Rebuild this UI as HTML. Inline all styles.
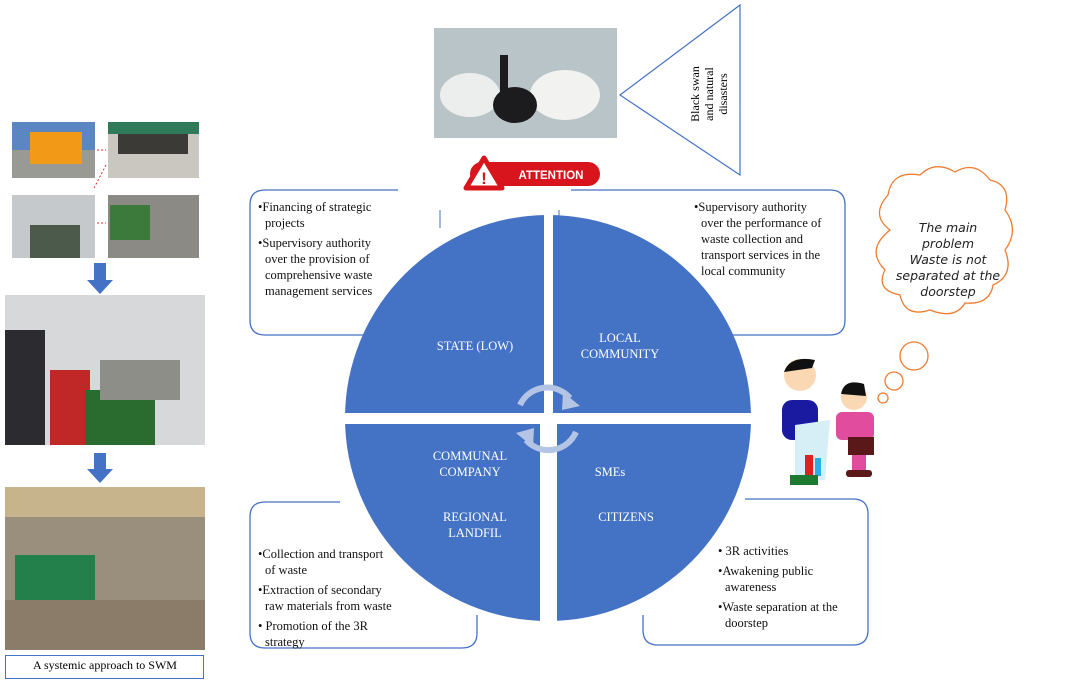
<!DOCTYPE html>
<html><head><meta charset="utf-8"><style>
body{margin:0;width:1085px;height:685px;background:#fff;overflow:hidden;position:relative;font-family:"Liberation Serif",serif;}
.a{position:absolute;}
.t{font-size:12.5px;line-height:16px;color:#111;}
.t p{margin:0 0 4px 0;padding-left:8px;text-indent:-7px;}
.n p{white-space:nowrap;}
.w{color:#fff;font-size:12.5px;text-align:center;line-height:16px;}
</style></head><body>
<svg class="a" style="left:0;top:0" width="1085" height="685">
<rect x="12" y="122" width="83" height="56" fill="#5a87c2"/>
<rect x="12" y="150" width="83" height="28" fill="#9a9a94"/>
<rect x="30" y="132" width="52" height="32" fill="#f29a18"/>
<rect x="108" y="122" width="91" height="56" fill="#c9c7c0"/>
<rect x="108" y="122" width="91" height="12" fill="#2f7a58"/>
<rect x="118" y="134" width="70" height="20" fill="#3b3a36"/>
<rect x="12" y="195" width="83" height="63" fill="#c6c9cc"/>
<rect x="30" y="225" width="50" height="33" fill="#4b5a4a"/>
<rect x="108" y="195" width="91" height="63" fill="#8b8a84"/>
<rect x="110" y="205" width="40" height="35" fill="#3b7a3a"/>
<line x1="97" y1="150" x2="106" y2="150" stroke="#d33" stroke-dasharray="2,2"/>
<line x1="97" y1="223" x2="106" y2="223" stroke="#d33" stroke-dasharray="2,2"/>
<line x1="106" y1="165" x2="93" y2="190" stroke="#d33" stroke-dasharray="2,2"/>
<polygon points="94,263 106,263 106,280 113,280 100,294 87,280 94,280" fill="#4472c4"/>
<rect x="5" y="295" width="200" height="150" fill="#d6d8da"/>
<rect x="5" y="330" width="40" height="115" fill="#2c2c30"/>
<rect x="50" y="370" width="40" height="75" fill="#c02828"/>
<rect x="85" y="390" width="70" height="55" fill="#2a6b30"/>
<rect x="100" y="360" width="80" height="40" fill="#8d8e88"/>
<polygon points="94,453 106,453 106,469 113,469 100,483 87,469 94,469" fill="#4472c4"/>
<rect x="5" y="487" width="200" height="163" fill="#9a8f7d"/>
<rect x="5" y="487" width="200" height="30" fill="#c7b48c"/>
<rect x="15" y="555" width="80" height="55" fill="#23804a"/>
<rect x="5" y="600" width="200" height="50" fill="#8a7c68"/>
<rect x="5.5" y="655.5" width="198" height="23" fill="#fff" stroke="#4472c4"/>
<rect x="434" y="28" width="183" height="110" fill="#b9c4c8"/>
<ellipse cx="470" cy="95" rx="30" ry="22" fill="#eceeed"/>
<ellipse cx="565" cy="95" rx="35" ry="25" fill="#f2f2f0"/>
<ellipse cx="515" cy="105" rx="22" ry="18" fill="#1c1c1e"/>
<rect x="500" y="55" width="8" height="40" fill="#1c1c1e"/>
<polygon points="740,5 620,95 740,175" fill="#fff" stroke="#4472c4" stroke-width="1.2"/>
<path d="M398 190 H265 Q250 190 250 205 V320 Q250 335 265 335 H400" fill="none" stroke="#4472c4" stroke-width="1.3"/>
<path d="M571 190 H830 Q845 190 845 205 V320 Q845 335 830 335 H700" fill="none" stroke="#4472c4" stroke-width="1.3"/>
<line x1="440" y1="210" x2="440" y2="228" stroke="#4472c4"/>
<line x1="559" y1="210" x2="559" y2="228" stroke="#4472c4"/>
<path d="M340 502 H265 Q250 502 250 517 V633 Q250 648 265 648 H462 Q477 648 477 633 V615" fill="none" stroke="#4472c4" stroke-width="1.3"/>
<path d="M643 615 V630 Q643 645 658 645 H853 Q868 645 868 630 V514 Q868 499 853 499 H745" fill="none" stroke="#4472c4" stroke-width="1.3"/>
<defs><clipPath id="c"><circle cx="548" cy="418" r="203"/></clipPath></defs>
<g clip-path="url(#c)" fill="#4472c4">
<rect x="340" y="210" width="204" height="203"/>
<rect x="553" y="210" width="200" height="203"/>
<rect x="340" y="424" width="200" height="200"/>
<rect x="557" y="424" width="200" height="200"/>
</g>
<path d="M520 405 A30 30 0 0 1 570 398" fill="none" stroke="#b4c4e4" stroke-width="6"/>
<polygon points="563,392 580,406 562,410" fill="#b4c4e4"/>
<path d="M576 432 A30 30 0 0 1 526 440" fill="none" stroke="#b4c4e4" stroke-width="6"/>
<polygon points="533,447 516,433 534,428" fill="#b4c4e4"/>
<rect x="470" y="162" width="130" height="24" rx="12" fill="#d8141c"/>
<polygon points="484,158 466,188 502,188" fill="#fff" stroke="#d8141c" stroke-width="5" stroke-linejoin="round"/>
<text x="484" y="184" font-family="Liberation Sans" font-weight="bold" font-size="17" fill="#d8141c" text-anchor="middle">!</text>
<text x="551" y="179" font-family="Liberation Sans" font-weight="bold" font-size="11.5" fill="#fff" text-anchor="middle">ATTENTION</text>
<path d="M890 230 Q870 215 888 195 Q892 170 920 175 Q935 160 955 172 Q975 160 990 180 Q1012 185 1005 210 Q1020 230 1005 250 Q1015 275 993 285 Q990 305 965 303 Q955 320 930 310 Q905 318 900 295 Q875 290 885 270 Q865 250 890 230 Z" fill="#fff" stroke="#ed7d31" stroke-width="1.3"/>
<circle cx="914" cy="356" r="14" fill="#fff" stroke="#ed7d31" stroke-width="1.3"/>
<circle cx="894" cy="381" r="9" fill="#fff" stroke="#ed7d31" stroke-width="1.3"/>
<circle cx="883" cy="398" r="5" fill="#fff" stroke="#ed7d31" stroke-width="1.3"/>
<circle cx="800" cy="375" r="16" fill="#fbd8b4"/>
<path d="M784 372 Q790 355 815 360 L812 368 Z" fill="#111"/>
<rect x="782" y="400" width="36" height="40" rx="10" fill="#1a1aa0"/>
<path d="M795 425 L830 420 L825 480 L795 480 Z" fill="#d6eef6"/>
<rect x="805" y="455" width="8" height="20" fill="#e02020"/>
<rect x="815" y="458" width="6" height="18" fill="#2ab0e0"/>
<rect x="790" y="475" width="28" height="10" fill="#1e7a30"/>
<circle cx="854" cy="397" r="13" fill="#fbd8b4"/>
<path d="M841 394 Q844 378 864 384 L866 396 Z" fill="#111"/>
<rect x="836" y="412" width="38" height="28" rx="6" fill="#e24c9e"/>
<rect x="848" y="437" width="26" height="18" fill="#5a1818"/>
<rect x="852" y="455" width="14" height="16" fill="#e24c9e"/>
<rect x="846" y="470" width="26" height="7" rx="3" fill="#5a1818"/>
</svg>

<div class="a" style="left:5px;top:658px;width:200px;text-align:center;font-size:12px;">A systemic approach to SWM</div>
<div class="a" style="left:677px;top:70px;width:70px;height:48px;transform:rotate(-90deg);transform-origin:center;font-size:12px;line-height:14px;text-align:center;">Black swan and natural disasters</div>

<div class="a t" style="left:257px;top:199px;width:125px;"><p>•Financing of strategic projects</p><p>•Supervisory authority over the provision of comprehensive waste management services</p></div>
<div class="a t" style="left:693px;top:199px;width:132px;"><p>•Supervisory authority over the performance of waste collection and transport services in the local community</p></div>
<div class="a t n" style="left:257px;top:546px;width:140px;"><p>•Collection and transport<br>of waste</p><p>•Extraction of secondary<br>raw materials from waste</p><p>• Promotion of the 3R<br>strategy</p></div>
<div class="a t" style="left:717px;top:543px;width:136px;"><p>• 3R activities</p><p>•Awakening public awareness</p><p>•Waste separation at the doorstep</p></div>

<div class="a w" style="left:415px;top:338px;width:120px;">STATE (LOW)</div>
<div class="a w" style="left:570px;top:330px;width:100px;">LOCAL<br>COMMUNITY</div>
<div class="a w" style="left:415px;top:448px;width:110px;">COMMUNAL<br>COMPANY</div>
<div class="a w" style="left:580px;top:464px;width:60px;">SMEs</div>
<div class="a w" style="left:415px;top:509px;width:120px;">REGIONAL<br>LANDFIL</div>
<div class="a w" style="left:576px;top:509px;width:100px;">CITIZENS</div>

<div class="a" style="left:890px;top:220px;width:116px;text-align:center;font-family:'DejaVu Sans',sans-serif;font-style:italic;font-size:12.5px;line-height:16px;color:#222;">The main<br>problem<br>Waste is not separated at the doorstep</div>
</body></html>
